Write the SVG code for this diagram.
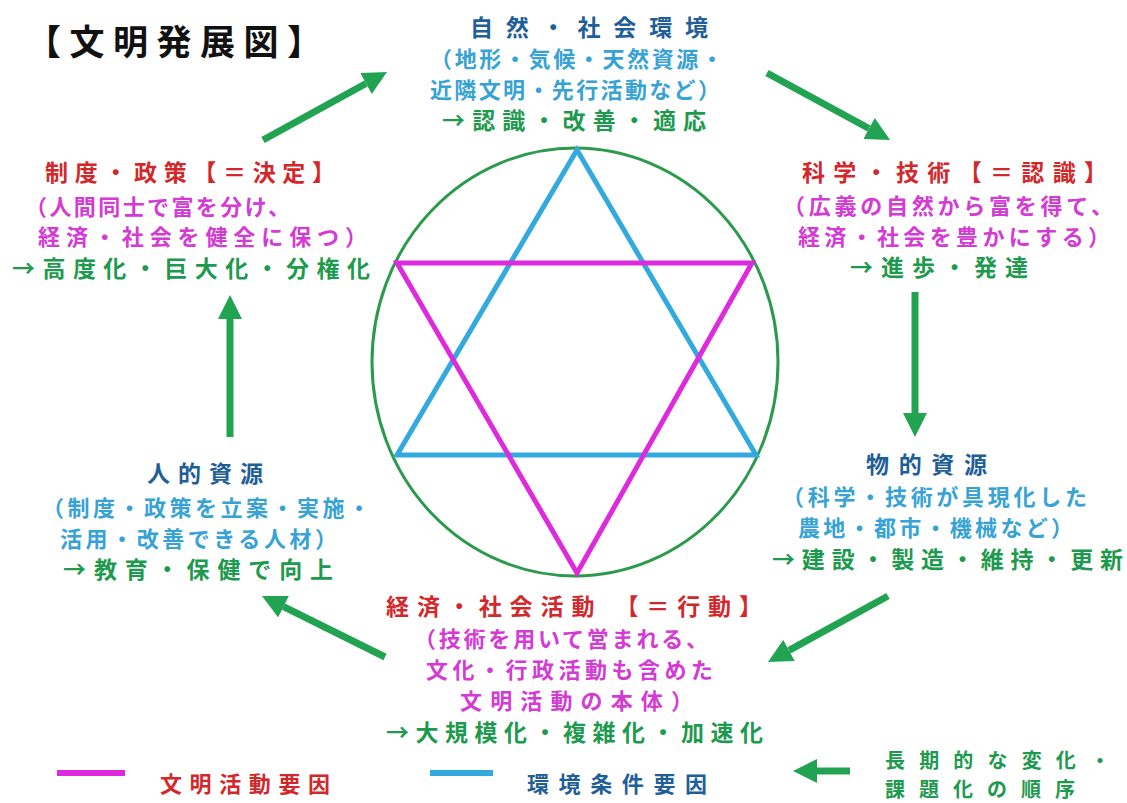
<svg xmlns="http://www.w3.org/2000/svg" width="1127" height="803" viewBox="0 0 1127 803">
<style>
text{font-family:"Noto Sans CJK JP","Noto Sans CJK SC",sans-serif;font-weight:700;font-size:22px}
.t{font-size:35px;fill:#111}
.h{font-size:23px}
.s{font-size:20px}
.red{fill:#d3282b}
.mag{fill:#d43ad4}
.lb{fill:#37a3d5}
.db{fill:#1f5e98}
.gr{fill:#1e9a4e}
.arr{stroke:#22a352;stroke-width:7;fill:none;marker-end:url(#ah)}
</style>
<defs>
<marker id="ah" markerUnits="userSpaceOnUse" markerWidth="24" markerHeight="24" viewBox="0 0 24 24" refX="0" refY="12" orient="auto">
<path d="M0,0 L24,12 L0,24 z" fill="#22a352"/>
</marker>
</defs>
<rect width="1127" height="803" fill="#fff"/>
<g id="title"><text class="t" x="26" y="55" textLength="296" lengthAdjust="spacing">【文明発展図】</text></g>
<g id="star">
<ellipse cx="575" cy="362" rx="203" ry="214" fill="none" stroke="#2b9a4c" stroke-width="3"/>
<polygon points="577,150 756,455 397,455" fill="none" stroke="#33aadd" stroke-width="5" stroke-linejoin="miter"/>
<polygon points="397,263 752,263 577,573" fill="none" stroke="#dd2add" stroke-width="5" stroke-linejoin="miter"/>
</g>
<g id="connectors">
<line class="arr" x1="263" y1="140" x2="366" y2="83.5"/>
<line class="arr" x1="767" y1="73" x2="869" y2="128.5"/>
<line class="arr" x1="915" y1="292" x2="915" y2="413"/>
<line class="arr" x1="888" y1="596" x2="789" y2="650.4"/>
<line class="arr" x1="385" y1="657" x2="283.5" y2="606.7"/>
<line class="arr" x1="230" y1="437" x2="230" y2="319"/>
</g>
<g id="node-env">
<text class="h db" x="470" y="36" textLength="238" lengthAdjust="spacing">自然・社会環境</text>
<text class="lb" x="430" y="67" textLength="293" lengthAdjust="spacing">（地形・気候・天然資源・</text>
<text class="lb" x="430" y="98" textLength="290" lengthAdjust="spacing">近隣文明・先行活動など）</text>
<text class="h gr" x="442" y="129" textLength="264" lengthAdjust="spacing">→認識・改善・適応</text>
</g>
<g id="node-science">
<text class="h red" x="802" y="181" textLength="305" lengthAdjust="spacing">科学・技術【＝認識】</text>
<text class="mag" x="783" y="214" textLength="330" lengthAdjust="spacing">（広義の自然から富を得て、</text>
<text class="mag" x="798" y="245" textLength="312" lengthAdjust="spacing">経済・社会を豊かにする）</text>
<text class="h gr" x="850" y="276" textLength="178" lengthAdjust="spacing">→進歩・発達</text>
</g>
<g id="node-material">
<text class="h db" x="866" y="473" textLength="121" lengthAdjust="spacing">物的資源</text>
<text class="lb" x="782" y="505" textLength="305" lengthAdjust="spacing">（科学・技術が具現化した</text>
<text class="lb" x="798" y="536" textLength="275" lengthAdjust="spacing">農地・都市・機械など）</text>
<text class="h gr" x="772" y="568" textLength="351" lengthAdjust="spacing">→建設・製造・維持・更新</text>
</g>
<g id="node-activity">
<text class="h red" x="386" y="615" textLength="376" lengthAdjust="spacing">経済・社会活動 【＝行動】</text>
<text class="mag" x="414" y="647" textLength="294" lengthAdjust="spacing">（技術を用いて営まれる、</text>
<text class="mag" x="426" y="678" textLength="287" lengthAdjust="spacing">文化・行政活動も含めた</text>
<text class="mag" x="460" y="709" textLength="233" lengthAdjust="spacing">文明活動の本体）</text>
<text class="h gr" x="386" y="741" textLength="377" lengthAdjust="spacing">→大規模化・複雑化・加速化</text>
</g>
<g id="node-human">
<text class="h db" x="147" y="482" textLength="116" lengthAdjust="spacing">人的資源</text>
<text class="lb" x="42" y="516" textLength="328" lengthAdjust="spacing">（制度・政策を立案・実施・</text>
<text class="lb" x="60" y="547" textLength="277" lengthAdjust="spacing">活用・改善できる人材）</text>
<text class="h gr" x="63" y="578" textLength="270" lengthAdjust="spacing">→教育・保健で向上</text>
</g>
<g id="node-policy">
<text class="h red" x="45" y="181" textLength="290" lengthAdjust="spacing">制度・政策【＝決定】</text>
<text class="mag" x="25" y="215" textLength="265" lengthAdjust="spacing">（人間同士で富を分け、</text>
<text class="mag" x="38" y="245" textLength="329" lengthAdjust="spacing">経済・社会を健全に保つ）</text>
<text class="h gr" x="12" y="277" textLength="358" lengthAdjust="spacing">→高度化・巨大化・分権化</text>
</g>
<g id="legend">
<line x1="57" y1="773" x2="125" y2="773" stroke="#dd2add" stroke-width="6"/>
<text class="red" x="160" y="792" textLength="170" lengthAdjust="spacing">文明活動要因</text>
<line x1="430" y1="773" x2="493" y2="773" stroke="#33aadd" stroke-width="6"/>
<text class="db" x="527" y="792" textLength="180" lengthAdjust="spacing">環境条件要因</text>
<line class="arr" x1="850" y1="771" x2="817" y2="771"/>
<text class="s gr" x="885" y="768" textLength="225" lengthAdjust="spacing">長期的な変化・</text>
<text class="s gr" x="885" y="797" textLength="190" lengthAdjust="spacing">課題化の順序</text>
</g>
</svg>
